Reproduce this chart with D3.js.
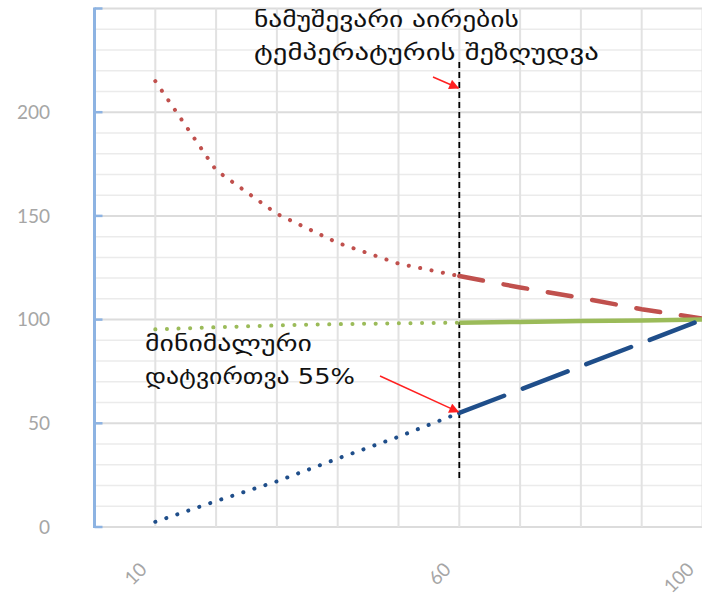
<!DOCTYPE html>
<html>
<head>
<meta charset="utf-8">
<script src="https://cdn.jsdelivr.net/npm/d3@7"></script>
<style>
  html, body { margin: 0; padding: 0; background: #fff; }
  svg { display: block; }
</style>
</head>
<body>
<svg id="chart" width="702" height="598"></svg>
<script>
// Load share (x) versus relative values (y)
const xTickLabels = [10, 60, 100];
const yTickValues = [0, 50, 100, 150, 200];

// Part-load region (dotted) and operating region (dashed / solid)
const xLow = [10, 20, 30, 40, 50, 60];
const xHigh = [60, 70, 80, 90, 100];

const redLow = [215, 172, 151, 137, 127, 121];
const redHigh = [121, 115.5, 110.5, 105, 100.5];

const blueLow = [2.5, 12.5, 22, 33, 43.5, 55];
const blueHigh = [55, 66.25, 77.5, 88.75, 100];

const greenLow = [95.3, 96.3, 97.2, 97.8, 98.2, 98.5];
const greenHigh = [98.5, 98.9, 99.3, 99.6, 100];

const limitX = 60;          // vertical limit marker
const minLoad = 55;         // minimum load value at limitX

const annoTop = ["ნამუშევარი აირების", "ტემპერატურის შეზღუდვა"];
const annoBottom = ["მინიმალური", "დატვირთვა 55%"];

const svg = d3.select("#chart");

const x = d3.scaleLinear().domain([0, 100]).range([94.5, 702.5]);
const y = d3.scaleLinear().domain([0, 250]).range([527, 8.5]);

const defs = svg.append("defs");
defs.append("marker")
  .attr("id", "arrowRed")
  .attr("viewBox", "0 0 10 10")
  .attr("refX", 9).attr("refY", 5)
  .attr("markerWidth", 11).attr("markerHeight", 10)
  .attr("markerUnits", "userSpaceOnUse")
  .attr("orient", "auto")
  .append("path")
  .attr("d", "M0,0 L10,5 L0,10 Z")
  .attr("fill", "#ff2020");

// Gridlines
const grid = svg.append("g");
grid.selectAll("line.hminor")
  .data(d3.range(0, 251, 10).filter(v => v % 50 !== 0))
  .join("line")
  .attr("x1", x(0)).attr("x2", x(100))
  .attr("y1", d => y(d)).attr("y2", d => y(d))
  .attr("stroke", "#ebebeb").attr("stroke-width", 1.5);
grid.selectAll("line.hmajor")
  .data(d3.range(0, 251, 50))
  .join("line")
  .attr("x1", x(0)).attr("x2", x(100))
  .attr("y1", d => y(d)).attr("y2", d => y(d))
  .attr("stroke", "#dcdcdc").attr("stroke-width", 2);
grid.selectAll("line.v")
  .data(d3.range(10, 101, 10))
  .join("line")
  .attr("x1", d => x(d)).attr("x2", d => x(d))
  .attr("y1", y(250)).attr("y2", y(0))
  .attr("stroke", "#e2e2e2").attr("stroke-width", 2);

// Y axis (blue line with inward ticks)
const yAxis = svg.append("g").attr("transform", `translate(${x(0)},0)`);
yAxis.append("line")
  .attr("x1", 0).attr("x2", 0).attr("y1", y(250) - 1).attr("y2", y(0) + 1)
  .attr("stroke", "#8db3e2").attr("stroke-width", 3);
yAxis.selectAll("line.tick")
  .data(d3.range(0, 251, 50))
  .join("line")
  .attr("x1", 0).attr("x2", 8)
  .attr("y1", d => y(d)).attr("y2", d => y(d))
  .attr("stroke", "#8db3e2").attr("stroke-width", 2.5);

svg.append("g").selectAll("text")
  .data(yTickValues)
  .join("text")
  .attr("x", 50).attr("y", d => y(d))
  .attr("dy", "0.36em")
  .attr("text-anchor", "end")
  .attr("font-family", "Lato, 'Liberation Sans', sans-serif")
  .attr("font-size", 19)
  .attr("fill", "#a6a6a6")
  .text(d => d);

// X tick labels, rotated
svg.append("g").selectAll("text")
  .data(xTickLabels)
  .join("text")
  .attr("transform", d => `translate(${x(d) - 12},${566}) rotate(-45)`)
  .attr("text-anchor", "end")
  .attr("dy", "0.35em")
  .attr("font-family", "Lato, 'Liberation Sans', sans-serif")
  .attr("font-size", 19)
  .attr("fill", "#a6a6a6")
  .text(d => d);

// Vertical limit line
svg.append("line")
  .attr("x1", x(limitX)).attr("x2", x(limitX))
  .attr("y1", 62).attr("y2", 482)
  .attr("stroke", "#000").attr("stroke-width", 1.8)
  .attr("stroke-dasharray", "6,4");

const line = d3.line().x(d => x(d[0])).y(d => y(d[1]));
const pairs = (xs, ys) => xs.map((v, i) => [v, ys[i]]);

const dotted = "0.1,11.5";
function drawSeries(xs, ys, color, width, dash, cap) {
  svg.append("path")
    .attr("d", line(pairs(xs, ys)))
    .attr("fill", "none")
    .attr("stroke", color)
    .attr("stroke-width", width)
    .attr("stroke-linecap", cap)
    .attr("stroke-dasharray", dash);
}

const red = "#c0504d", green = "#9bbb59", blue = "#1f4e8a";

drawSeries(xLow, redLow, red, 4, dotted, "round");
drawSeries(xHigh, redHigh, red, 4.5, "24,21", "round");
drawSeries(xLow, greenLow, green, 4, dotted, "round");
drawSeries(xHigh, greenHigh, green, 4.5, null, "butt");
drawSeries(xLow, blueLow, blue, 4, dotted, "round");
drawSeries(xHigh, blueHigh, blue, 4.5, "48,20", "round");

// Annotations: wide Georgian text, stretched horizontally to its run width
function textBlock(lines, widths, x0, y0) {
  lines.forEach((s, i) => {
    const g = svg.append("g")
      .attr("transform", `translate(${x0},${y0 + i * 33})`);
    const t = g.append("text")
      .attr("font-family", "'DejaVu Sans', 'Noto Sans', sans-serif")
      .attr("font-size", 21)
      .attr("fill", "#111")
      .text(s);
    const w = t.node().getComputedTextLength();
    t.attr("transform", `scale(${widths[i] / w},1)`);
  });
}
textBlock(annoTop, [265, 345], 254, 27);
textBlock(annoBottom, [167, 210], 145, 351);

// Red arrows
svg.append("line")
  .attr("x1", 433).attr("y1", 77)
  .attr("x2", x(limitX) - 1).attr("y2", 88)
  .attr("stroke", "#ff2020").attr("stroke-width", 1.5)
  .attr("marker-end", "url(#arrowRed)");
svg.append("line")
  .attr("x1", 380).attr("y1", 376)
  .attr("x2", x(limitX) - 1).attr("y2", y(minLoad) - 1)
  .attr("stroke", "#ff2020").attr("stroke-width", 1.5)
  .attr("marker-end", "url(#arrowRed)");
</script>
</body>
</html>
